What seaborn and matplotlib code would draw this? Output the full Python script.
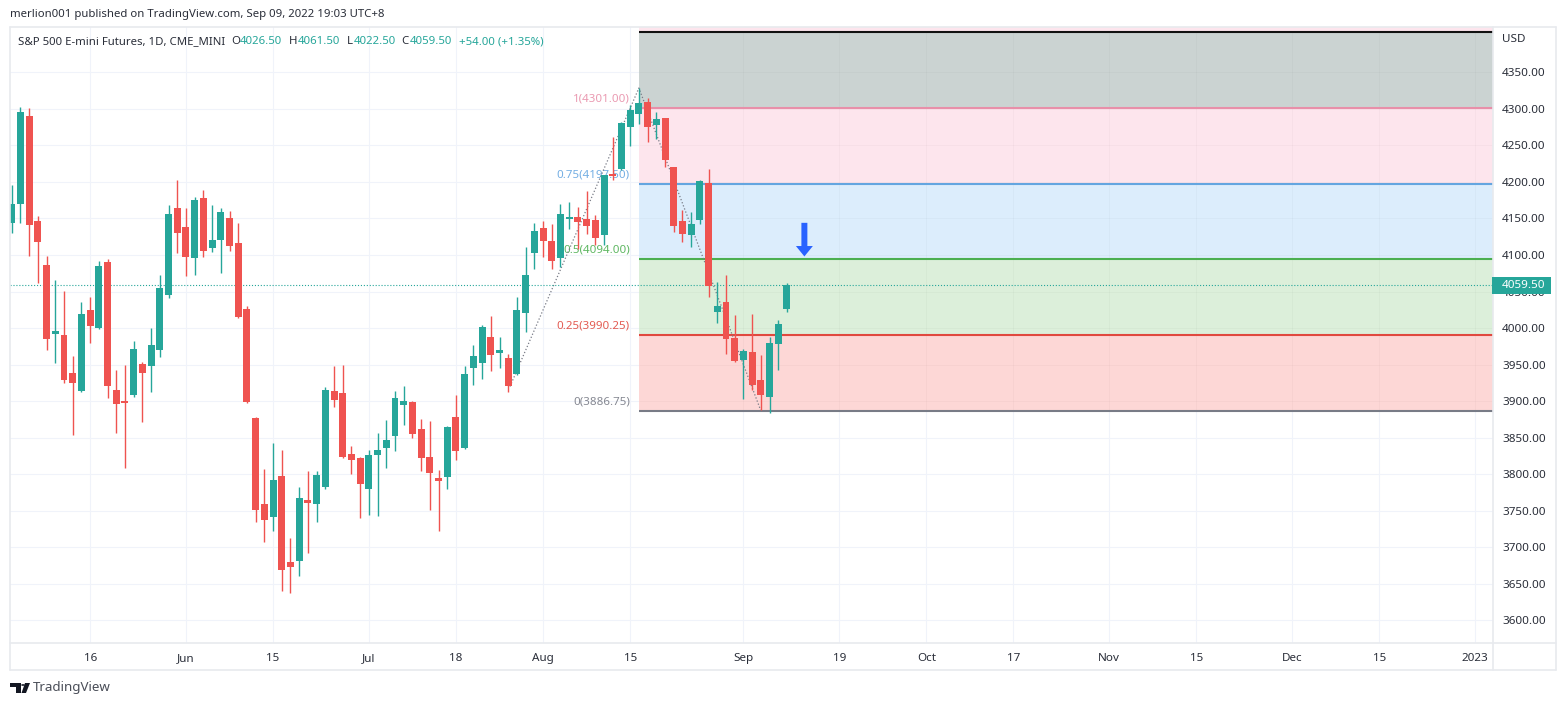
import pandas as pd
import seaborn as sns
import matplotlib.pyplot as plt
from matplotlib.lines import Line2D
from matplotlib.patches import Polygon, Circle, Rectangle

# daily candles
opens = [4144, 4170, 4290, 4146, 4086, 3991.5, 3990.5, 3938.5, 3913.75, 4024.5,
         4000, 4090, 3915, 3900, 3908, 3950.5, 3948, 3970, 4045, 4164,
         4138, 4095.5, 4178, 4109.5, 4120.5, 4150.5, 4116, 4026, 3877, 3759,
         3741.5, 3797.5, 3679.5, 3681, 3764.5, 3759, 3782.5, 3913.5, 3911, 3827.5,
         3822, 3779.5, 3826, 3835.5, 3852, 3894.5, 3899, 3861.5, 3823.5, 3794.5,
         3796, 3878, 3835.5, 3945, 3952, 3987.5, 3965.5, 3959, 3937, 4020.5,
         4102.5, 4137, 4119, 4095.5, 4149, 4152, 4149, 4147.5, 4127, 4210.5,
         4217.5, 4275, 4293, 4309, 4277.5, 4287, 4220, 4146.5, 4127, 4147.5,
         4198.5, 4022, 4035.5, 3986.5, 3956, 3967, 3929, 3905.5, 3978, 4026.5]
highs = [4196, 4302, 4301, 4153, 4098.5, 4065.5, 4050.5, 3961.5, 4035.5, 4042.5,
         4091.5, 4094.5, 3942.5, 3949.5, 3982, 3953.5, 4000, 4072.5, 4168.5, 4202.5,
         4164, 4179, 4189, 4168.5, 4164, 4160, 4143.5, 4030, 3878, 3807,
         3842.5, 3833, 3712.5, 3782.5, 3804.5, 3804.5, 3919, 3948, 3949.5, 3838.5,
         3823.5, 3833, 3856, 3874, 3913.5, 3920.5, 3899.5, 3875.5, 3872.5, 3805.5,
         3866, 3908, 3948, 3976.5, 4004, 4016.5, 3987.5, 3964.5, 4042.5, 4111,
         4143.5, 4146.5, 4142.5, 4169.5, 4172.5, 4165.5, 4187.5, 4154.5, 4210, 4261.5,
         4282, 4305, 4328.5, 4314.5, 4295.5, 4287.5, 4220.5, 4161.5, 4158.5, 4202.5,
         4217.5, 4063, 4072.5, 4017.5, 3971, 4019, 3963, 3987.5, 4011, 4061.5]
lows = [4130, 4144, 4098.5, 4061.5, 3970, 3952, 3924.5, 3853.5, 3913, 3979.5,
        3998.5, 3904, 3856, 3808.5, 3905.5, 3871.5, 3912.5, 3960, 4041, 4102.5,
        4071, 4072.5, 4097, 4104, 4075, 4105.5, 4013.5, 3897.5, 3734.5, 3707,
        3722, 3640, 3637.5, 3660.5, 3692, 3734.5, 3779.5, 3892, 3822, 3800,
        3740, 3744, 3742.5, 3808.5, 3831.5, 3867, 3849.5, 3804.5, 3751, 3722,
        3779.5, 3819.5, 3834.5, 3922, 3930, 3941, 3945, 3912.5, 3935.5, 3994.5,
        4080.5, 4097, 4080.5, 4083.5, 4135.5, 4108, 4128.5, 4113.5, 4113.5, 4202.5,
        4216, 4249, 4279, 4254.5, 4258.5, 4220, 4131.5, 4117.5, 4111, 4142.5,
        4042.5, 4007, 3964.5, 3953.5, 3903, 3915, 3887.5, 3883.5, 3942.5, 4022.5]
closes = [4170, 4295.5, 4141, 4117.5, 3985, 3996, 3929, 3924.5, 4019, 4002.5,
          4085, 3920.5, 3896, 3897.5, 3971, 3938.5, 3976.5, 4054.5, 4156, 4130,
          4097, 4175, 4105, 4120.5, 4158.5, 4112, 4015, 3898.5, 3751, 3737,
          3792, 3669, 3673, 3767.5, 3760.5, 3799, 3915, 3901.5, 3823.5, 3819.5,
          3786.5, 3826, 3833, 3846.5, 3904, 3900, 3855, 3822, 3801.5, 3790.5,
          3864.5, 3831.5, 3937, 3961.5, 4001.5, 3963, 3970, 3920.5, 4024.5, 4072.5,
          4132.5, 4119, 4091.5, 4156, 4152, 4145, 4139.5, 4123, 4209, 4208,
          4280.5, 4298.5, 4308, 4275, 4286, 4230, 4139.5, 4128.5, 4142.5, 4201,
          4057.5, 4030, 3985, 3955, 3968.5, 3922.5, 3908, 3979.5, 4005.5, 4059.5]

time_ticks = [9, 20, 30, 41, 51, 61, 71, 84, 95, 105, 115, 126, 136, 147, 157, 168]
time_labels = ['16', 'Jun', '15', 'Jul', '18', 'Aug', '15', 'Sep', '19', 'Oct',
               '17', 'Nov', '15', 'Dec', '15', '2023']
price_ticks = [3600, 3650, 3700, 3750, 3800, 3850, 3900, 3950, 4000, 4050, 4100,
               4150, 4200, 4250, 4300, 4350]

# fib retracement
fib_prices = [3886.75, 3990.25, 4094.00, 4197.50, 4301.00, 4404.75]
fib_names = ['0(3886.75)', '0.25(3990.25)', '0.5(4094.00)', '0.75(4197.50)', '1(4301.00)']
fib_line_colors = ['#787b86', '#e0493f', '#4caf50', '#64a5e0', '#e88fa9', '#111111']
fib_fills = ['#fdd7d6', '#dcefda', '#dcedfc', '#fde5ed', '#cbd3d2']
fib_start = 72

zigzag_x = [57.2, 72, 86]
zigzag_y = [3920, 4328.5, 3887]
last_price = 4059.5
arrow_x = 91
arrow_from, arrow_to = 4144, 4098

UP = '#26a69a'
DOWN = '#ef5350'
GRID = '#f0f3fa'
FRAME = '#e8eaee'
TXT = '#2a2e39'
W, H = 1566, 706


def fx(x):
    return x / W


def fy(y):
    return 1 - y / H


sns.set_theme(style='white')
plt.rcParams['font.family'] = ['Noto Sans', 'DejaVu Sans']

df = pd.DataFrame({'open': opens, 'high': highs, 'low': lows, 'close': closes})
df['bar'] = df.index
df['bottom'] = df[['open', 'close']].min(axis=1)
df['size'] = (df['open'] - df['close']).abs().clip(lower=2)
df['up'] = df['close'] >= df['open']

fig = plt.figure(figsize=(W / 100, H / 100), dpi=100)
ax = fig.add_axes([fx(10), fy(643), (1492.5 - 10) / W, (643 - 27) / H])

# bands and levels
band_from = (fib_start + 0.2) / 170.2
for i, fill in enumerate(fib_fills):
    ax.axhspan(fib_prices[i], fib_prices[i + 1], xmin=band_from, color=fill, lw=0, zorder=1)
ax.axhspan(fib_prices[5], 4415, xmin=band_from, color='#fde5ed', lw=0, zorder=1)

# the grid still shows through the bands
ax.hlines([p for p in price_ticks if p > fib_prices[0]], fib_start, 170, color='black', alpha=0.025,
          lw=0.8, zorder=1.2)
ax.vlines([t for t in time_ticks if t > fib_start], fib_prices[0], fib_prices[5], color='black',
          alpha=0.025, lw=0.8, zorder=1.2)

ax.hlines(fib_prices, fib_start, 170, colors=fib_line_colors, lw=1.5, zorder=1.5)
for price, name, c in zip(fib_prices, fib_names, fib_line_colors):
    ax.annotate(name, (fib_start, price), xytext=(-6.5, 6.4), textcoords='offset points',
                ha='right', va='center', fontsize=8.3, color=c, zorder=2, alpha=0.9)

ax.plot(zigzag_x, zigzag_y, color='#787b86', ls=':', lw=0.9, zorder=2)
ax.axhline(last_price, color=UP, ls=':', lw=0.8, zorder=2)

# candles
for is_up, color in [(True, UP), (False, DOWN)]:
    part = df[df['up'] == is_up]
    ax.vlines(part['bar'], part['low'], part['high'], color=color, lw=1.0, zorder=3)
    sns.barplot(data=part, x='bar', y='size', bottom=part['bottom'].values, native_scale=True,
                color=color, saturation=1, width=0.8, errorbar=None, ax=ax, zorder=3, linewidth=0)

ax.annotate('', xy=(arrow_x, arrow_to), xytext=(arrow_x, arrow_from),
            arrowprops=dict(width=4.3, headwidth=12.2, headlength=7.5, shrink=0,
                            color='#2962ff', lw=0), zorder=4)

ax.set_xlim(-0.2, 170)
ax.set_ylim(3569, 4412)
ax.set_xticks(time_ticks, time_labels)
ax.set_yticks(price_ticks, [f'{p:.2f}' for p in price_ticks])
ax.yaxis.tick_right()
ax.set_xlabel('')
ax.set_ylabel('')
ax.grid(True, color=GRID, lw=0.75)
ax.set_axisbelow(True)
ax.tick_params(axis='x', length=0, pad=7, labelsize=8.4, labelcolor=TXT)
ax.tick_params(axis='y', length=0, pad=7, labelsize=8.4, labelcolor=TXT)
for s in ax.spines.values():
    s.set_visible(False)

# outer frame
for x0, y0, x1, y1 in [(10, 27, 1556, 27), (10, 27, 10, 670), (10, 670, 1556, 670),
                       (1556, 27, 1556, 670), (10, 643, 1556, 643), (1492.5, 27, 1492.5, 670)]:
    fig.add_artist(Line2D([fx(x0), fx(x1)], [fy(y0), fy(y1)], color=FRAME, lw=1.2))

# last price tag
fig.add_artist(Rectangle((fx(1492), fy(294)), 59 / W, 17 / H, color=UP, lw=0, zorder=5))
fig.text(fx(1502), fy(285.5), '4059.50', color='white', fontsize=8.4, fontweight='bold',
         va='center', zorder=6)
fig.text(fx(1502), fy(40), 'USD', color=TXT, fontsize=8.4, va='center')

# header and legend
fig.text(fx(10), fy(14), 'merlion001 published on TradingView.com, Sep 09, 2022 19:03 UTC+8',
         color=TXT, fontsize=8.2, va='center')
fig.text(fx(18), fy(42), 'S&P 500 E-mini Futures, 1D, CME_MINI', color=TXT, fontsize=8.2, va='center')
for x, s, c in [(231, 'O', TXT), (240, '4026.50', UP), (288.5, 'H', TXT), (297.5, '4061.50', UP),
                (347, 'L', TXT), (354, '4022.50', UP), (401, 'C', TXT), (409.5, '4059.50', UP),
                (459, '+54.00 (+1.35%)', UP)]:
    fig.text(fx(x), fy(42), s, color=c, fontsize=8.2, va='center')

# logo
fig.add_artist(Polygon([(fx(a), fy(b)) for a, b in [(10, 683), (21, 683), (21, 693), (15.5, 693),
                                                    (15.5, 687), (10, 687)]], color='#131722', lw=0))
fig.add_artist(Polygon([(fx(a), fy(b)) for a, b in [(25, 683), (30, 683), (26, 693), (21.5, 693)]],
                       color='#131722', lw=0))
fig.add_artist(Circle((fx(23), fy(685)), 1.9 / W, color='#131722', lw=0))
fig.text(fx(33), fy(688), 'TradingView', color='#4a4e58', fontsize=9.6, va='center')

fig.savefig('out.png', dpi=100)
